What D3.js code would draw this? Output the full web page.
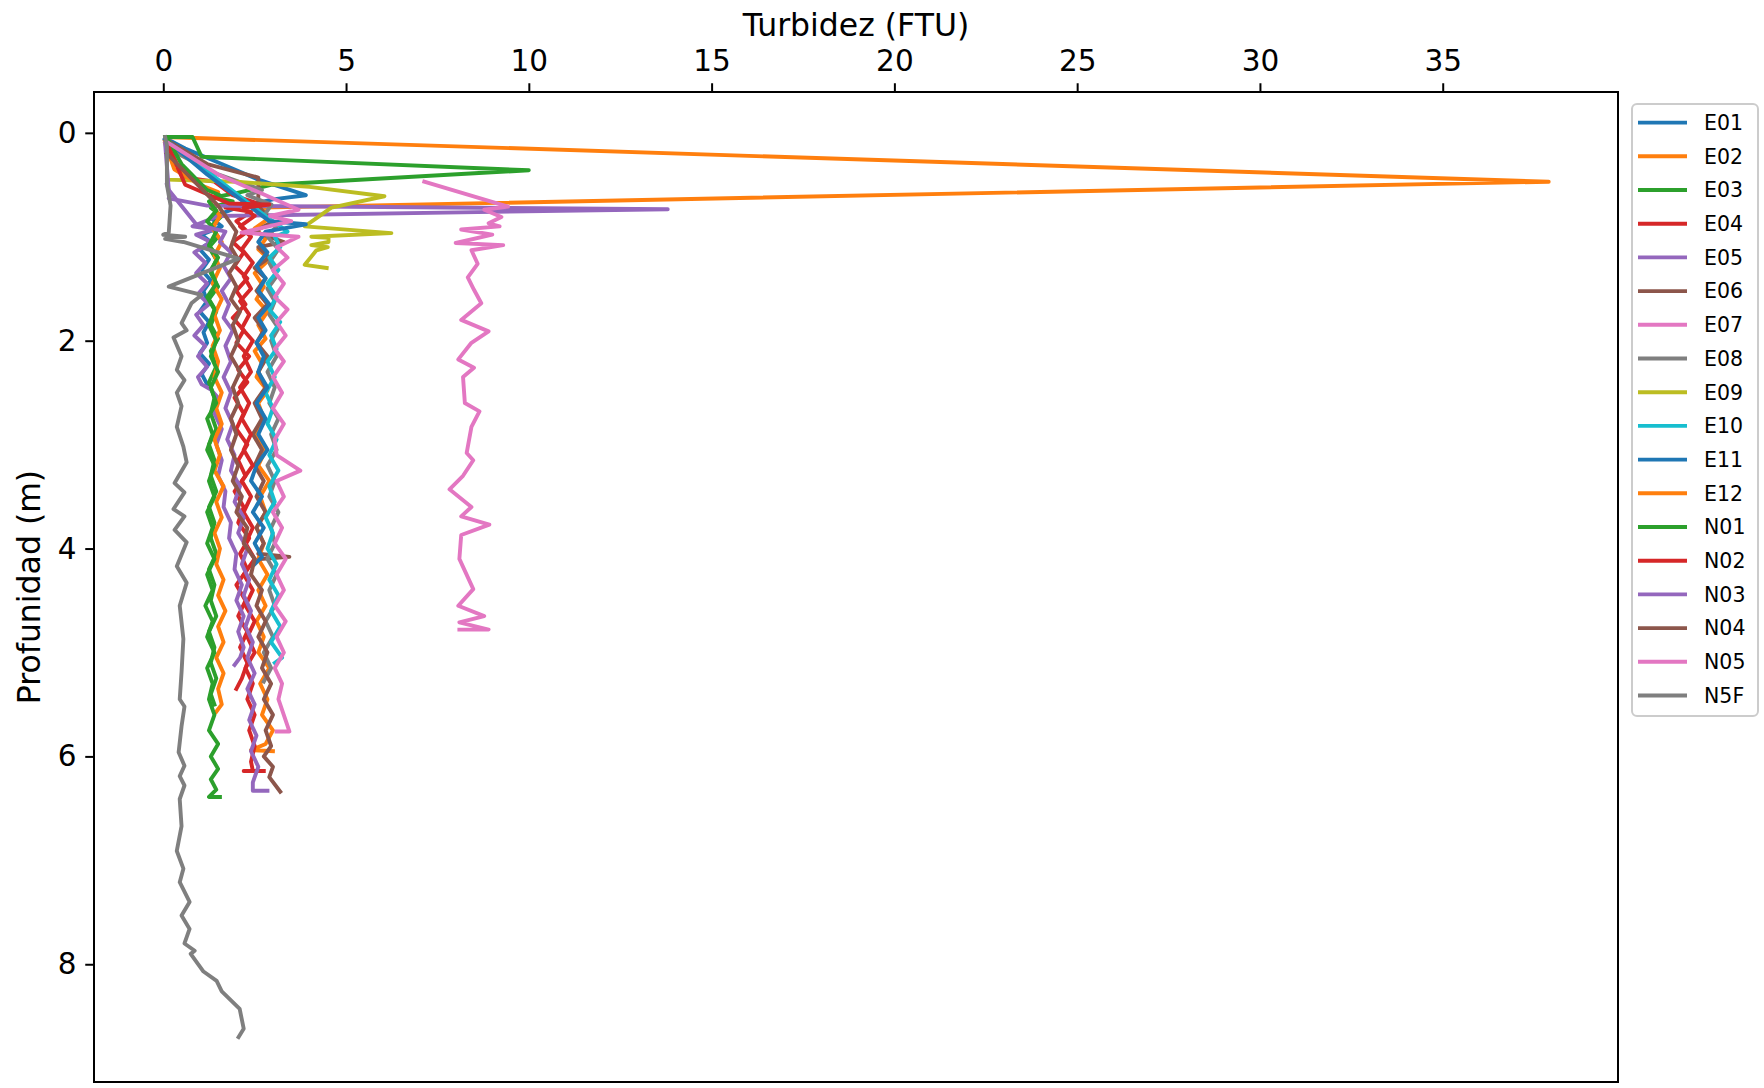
<!DOCTYPE html>
<html>
<head>
<meta charset="utf-8">
<script src="https://cdn.jsdelivr.net/npm/d3@7"></script>
<style>
  body { margin: 0; background: #fff; }
  text { font-family: "DejaVu Sans", sans-serif; fill: #000; }
</style>
</head>
<body>
<svg id="chart"></svg>
<script>
// station names, in plotting order
const stations = ["E01","E02","E03","E04","E05","E06","E07","E08","E09","E10","E11","E12","N01","N02","N03","N04","N05","N5F"];
const colors = ["#1f77b4","#ff7f0e","#2ca02c","#d62728","#9467bd","#8c564b","#e377c2","#7f7f7f","#bcbd22","#17becf"];
const xTicks = [0, 5, 10, 15, 20, 25, 30, 35];
const yTicks = [0, 2, 4, 6, 8];

// profiles: [turbidez (FTU), profundidad (m)]
const E01 = [[0.05,0.05],[0.6,0.15],[1.6,0.3],[2.6,0.45],[3.9,0.6],[3.0,0.64],[2.0,0.72],[1.3,0.82],[1.6,0.9],[1.05,0.98],[1.3,1.05],[1.0,1.12],[1.25,1.22],[1.05,1.32],[1.3,1.42],[1.1,1.52],[1.2,1.62],[1.0,1.72],[1.25,1.82],[1.1,1.92],[1.2,2.02],[1.0,2.12],[1.25,2.22],[1.05,2.32],[1.2,2.42]];
const E02 = [[0.05,0.04],[37.9,0.47],[2.7,0.72],[2.9,0.82],[2.5,0.92],[2.8,1.02],[2.6,1.12],[2.9,1.22],[2.5,1.35],[2.75,1.48],[2.55,1.6],[2.85,1.72],[2.6,1.85],[2.8,1.98],[2.5,2.1],[2.7,2.22],[2.55,2.35],[2.85,2.48],[2.6,2.6],[2.75,2.75],[2.5,2.9],[2.8,3.05],[2.6,3.2],[2.9,3.35],[2.65,3.5],[2.8,3.65],[2.55,3.8],[2.75,3.95],[2.6,4.1],[2.85,4.25],[2.6,4.4],[2.8,4.55],[2.55,4.7],[2.75,4.85],[2.6,5.0],[2.9,5.15],[2.65,5.3],[2.85,5.45],[2.7,5.6],[3.0,5.75],[2.8,5.88],[2.4,5.94],[3.0,5.95]];
const E03 = [[0.05,0.04],[0.8,0.04],[1.05,0.23],[10.0,0.36],[2.95,0.5],[2.0,0.58],[1.4,0.62],[1.9,0.66],[1.3,0.72],[1.6,0.8],[1.3,0.9],[1.5,1.0],[1.25,1.1],[1.45,1.22],[1.3,1.35],[1.5,1.48],[1.25,1.6],[1.45,1.72],[1.3,1.85],[1.5,1.98],[1.3,2.1],[1.45,2.25],[1.25,2.4],[1.4,2.55],[1.3,2.7],[1.45,2.85],[1.25,3.0],[1.4,3.15],[1.3,3.3],[1.45,3.45],[1.25,3.6],[1.4,3.75],[1.3,3.9],[1.45,4.05],[1.25,4.2],[1.4,4.35],[1.3,4.5],[1.45,4.65],[1.25,4.8],[1.4,4.95],[1.3,5.1],[1.45,5.25],[1.3,5.4],[1.4,5.5]];
const E04 = [[0.05,0.08],[0.35,0.28],[0.6,0.43],[1.4,0.47],[1.9,0.6],[2.6,0.68],[1.7,0.72],[2.4,0.76],[2.0,0.85],[2.3,0.95],[1.9,1.05],[2.2,1.15],[1.95,1.28],[2.3,1.4],[2.0,1.52],[2.25,1.65],[1.9,1.78],[2.2,1.9],[2.0,2.02],[2.35,2.15],[2.05,2.28],[2.3,2.4],[1.95,2.55],[2.2,2.7],[2.0,2.85],[2.3,3.0],[2.05,3.15],[2.25,3.3],[1.95,3.45],[2.2,3.6],[2.05,3.75],[2.35,3.9],[2.1,4.05],[2.3,4.2],[2.0,4.35],[2.25,4.5],[2.05,4.65],[2.3,4.8],[2.1,4.95],[2.3,5.1],[2.15,5.25],[2.0,5.35]];
const E05 = [[0.1,0.5],[0.2,0.6],[0.15,0.63],[1.2,0.7],[13.8,0.735],[1.5,0.8],[0.8,0.9],[1.4,0.93],[0.9,0.98],[1.3,1.05],[0.85,1.15],[1.15,1.25],[0.9,1.35],[1.2,1.45],[0.95,1.55],[1.25,1.65],[0.9,1.75],[1.1,1.85],[0.85,1.95],[1.15,2.05],[0.95,2.15],[1.2,2.25],[0.95,2.35],[1.05,2.42],[1.3,2.47],[1.5,2.55],[1.4,2.7],[1.6,2.85],[1.45,3.0],[1.6,3.15],[1.5,3.3],[1.7,3.45],[1.65,3.6],[1.85,3.75],[1.8,3.9],[2.0,4.05],[1.95,4.2],[2.15,4.35],[2.0,4.5],[2.2,4.65],[2.05,4.8],[2.2,4.95],[2.1,5.05],[1.95,5.12]];
const E06 = [[0.05,0.06],[1.2,0.3],[2.6,0.43],[2.6,0.7],[2.96,0.86],[2.5,0.95],[3.3,1.05],[2.6,1.1],[2.9,1.2],[2.5,1.3],[2.8,1.4],[2.55,1.52],[2.85,1.65],[2.5,1.78],[2.75,1.9],[2.55,2.02],[2.85,2.15],[2.6,2.3],[2.8,2.45],[2.5,2.6],[2.7,2.75],[2.45,2.9],[2.7,3.05],[2.5,3.2],[2.75,3.35],[2.55,3.5],[2.8,3.65],[2.55,3.8],[2.75,3.95],[2.6,4.05],[3.45,4.08],[2.7,4.1]];
const E07 = [[7.14,0.47],[9.43,0.71],[8.78,0.74],[9.25,0.81],[8.9,0.87],[9.2,0.9],[8.15,0.93],[9.0,0.98],[8.0,1.06],[9.3,1.08],[8.43,1.13],[8.6,1.26],[8.33,1.39],[8.5,1.51],[8.7,1.64],[8.15,1.8],[8.9,1.91],[8.43,2.02],[8.07,2.18],[8.5,2.26],[8.2,2.35],[8.25,2.6],[8.65,2.68],[8.43,2.83],[8.3,3.08],[8.48,3.15],[8.2,3.3],[7.83,3.43],[8.43,3.6],[8.15,3.69],[8.92,3.77],[8.15,3.87],[8.1,4.1],[8.48,4.39],[8.07,4.55],[8.78,4.65],[8.1,4.71],[8.9,4.78],[8.1,4.78]];
const E08 = [[0.1,0.1],[0.23,0.17],[1.5,0.4],[2.7,0.55],[2.3,0.6],[2.96,0.69],[2.75,0.8],[3.1,0.9],[2.85,1.0],[3.15,1.12],[2.9,1.25],[3.1,1.38],[2.85,1.5],[3.05,1.62],[2.9,1.75],[3.15,1.88],[2.95,2.0],[3.1,2.15],[2.85,2.3],[3.05,2.45],[2.9,2.6],[3.15,2.75],[2.95,2.9],[3.1,3.05],[2.85,3.2],[3.05,3.35],[2.9,3.5],[3.15,3.65],[2.95,3.8],[3.05,3.95],[2.85,4.1],[3.1,4.25],[2.9,4.4],[3.05,4.55],[2.8,4.7],[3.0,4.85],[2.75,5.0],[2.95,5.15],[2.75,5.28]];
const E09 = [[0.05,0.05],[0.1,0.25],[0.1,0.45],[2.0,0.47],[4.0,0.52],[6.05,0.61],[4.6,0.72],[3.87,0.9],[6.24,0.965],[4.05,1.0],[4.52,1.01],[4.52,1.05],[4.05,1.08],[4.5,1.1],[4.19,1.13],[3.87,1.27],[4.47,1.3]];
const E10 = [[0.1,0.08],[1.5,0.45],[2.8,0.8],[3.4,0.95],[3.05,1.0],[3.2,1.1],[2.9,1.2],[3.15,1.32],[2.85,1.45],[3.1,1.58],[2.9,1.7],[3.2,1.82],[2.95,1.95],[3.1,2.08],[2.85,2.2],[3.05,2.35],[2.8,2.5],[3.0,2.65],[2.85,2.8],[3.1,2.95],[2.9,3.1],[3.15,3.25],[2.9,3.4],[3.05,3.55],[2.8,3.7],[3.0,3.85],[2.85,4.0],[3.1,4.15],[2.9,4.3],[3.15,4.45],[2.95,4.6],[3.2,4.75],[2.95,4.9],[3.25,5.05],[3.05,5.1]];
const E11 = [[0.05,0.06],[1.2,0.4],[2.9,0.85],[3.9,0.88],[2.8,0.95],[2.6,1.05],[2.85,1.15],[2.55,1.28],[2.8,1.4],[2.6,1.52],[2.9,1.65],[2.6,1.78],[2.8,1.9],[2.55,2.02],[2.75,2.15],[2.6,2.3],[2.85,2.45],[2.55,2.6],[2.8,2.75],[2.6,2.9],[2.85,3.05],[2.55,3.2],[2.4,3.35],[2.7,3.5],[2.45,3.65],[2.75,3.8],[2.5,3.95],[2.7,4.08],[2.5,4.15]];
const E12 = [[0.05,0.1],[0.3,0.35],[1.0,0.5],[1.5,0.57],[1.3,0.68],[1.55,0.8],[1.35,0.92],[1.6,1.05],[1.4,1.18],[1.55,1.3],[1.35,1.45],[1.6,1.6],[1.4,1.75],[1.55,1.9],[1.35,2.05],[1.5,2.2],[1.4,2.35],[1.6,2.5],[1.45,2.65],[1.6,2.8],[1.4,2.95],[1.55,3.1],[1.4,3.25],[1.65,3.4],[1.45,3.55],[1.6,3.7],[1.4,3.85],[1.55,4.0],[1.45,4.15],[1.65,4.3],[1.5,4.45],[1.7,4.6],[1.5,4.75],[1.65,4.9],[1.45,5.05],[1.65,5.2],[1.5,5.35],[1.6,5.5],[1.45,5.57]];
const N01 = [[0.1,0.05],[0.5,0.3],[1.2,0.55],[1.55,0.6],[1.25,0.66],[1.45,0.75],[1.2,0.85],[1.45,0.95],[1.25,1.08],[1.5,1.2],[1.3,1.32],[1.45,1.45],[1.2,1.58],[1.4,1.7],[1.25,1.85],[1.45,2.0],[1.3,2.15],[1.5,2.3],[1.3,2.45],[1.45,2.6],[1.2,2.75],[1.35,2.9],[1.2,3.05],[1.4,3.2],[1.25,3.35],[1.4,3.5],[1.2,3.65],[1.35,3.8],[1.2,3.95],[1.4,4.1],[1.2,4.25],[1.35,4.4],[1.15,4.55],[1.35,4.7],[1.2,4.85],[1.4,5.0],[1.2,5.15],[1.35,5.3],[1.25,5.45],[1.4,5.6],[1.25,5.75],[1.5,5.88],[1.3,6.0],[1.5,6.12],[1.3,6.22],[1.45,6.32],[1.25,6.39],[1.55,6.39]];
const N02 = [[0.1,0.1],[0.6,0.5],[1.8,0.68],[2.9,0.69],[2.2,0.72],[2.5,0.8],[2.1,0.9],[2.4,1.0],[2.15,1.12],[2.45,1.25],[2.2,1.38],[2.4,1.5],[2.1,1.62],[2.35,1.75],[2.15,1.88],[2.45,2.0],[2.2,2.15],[2.4,2.3],[2.1,2.45],[2.35,2.6],[2.15,2.75],[2.4,2.9],[2.2,3.05],[2.45,3.2],[2.15,3.35],[2.4,3.5],[2.2,3.65],[2.45,3.8],[2.25,3.95],[2.5,4.1],[2.2,4.25],[2.45,4.4],[2.25,4.55],[2.5,4.7],[2.3,4.85],[2.5,5.0],[2.25,5.15],[2.45,5.3],[2.3,5.45],[2.5,5.6],[2.35,5.75],[2.5,5.9],[2.4,6.05],[2.45,6.14],[2.2,6.14],[2.75,6.14]];
const N03 = [[0.05,0.1],[0.15,0.55],[0.9,0.88],[1.7,0.95],[1.55,1.05],[1.85,1.15],[1.65,1.28],[1.85,1.4],[1.6,1.52],[1.8,1.65],[1.65,1.78],[1.9,1.9],[1.7,2.05],[1.85,2.2],[1.65,2.35],[1.85,2.5],[1.7,2.65],[1.9,2.8],[1.75,2.95],[1.95,3.1],[1.85,3.25],[2.1,3.4],[1.95,3.55],[2.2,3.7],[2.05,3.85],[2.3,4.0],[2.15,4.15],[2.35,4.3],[2.2,4.45],[2.4,4.6],[2.25,4.75],[2.45,4.9],[2.3,5.05],[2.5,5.2],[2.3,5.35],[2.5,5.5],[2.35,5.65],[2.55,5.8],[2.4,5.95],[2.6,6.1],[2.45,6.25],[2.45,6.33],[2.85,6.33]];
const N04 = [[0.1,0.2],[1.5,0.7],[2.0,0.95],[1.85,1.1],[2.05,1.22],[1.8,1.35],[2.0,1.48],[1.85,1.6],[2.1,1.72],[1.9,1.85],[2.05,2.0],[1.85,2.15],[2.1,2.3],[1.9,2.45],[2.05,2.6],[1.85,2.75],[2.0,2.9],[1.85,3.05],[2.05,3.2],[1.9,3.35],[2.15,3.5],[2.0,3.65],[2.3,3.8],[2.2,3.95],[2.5,4.1],[2.4,4.25],[2.7,4.4],[2.55,4.55],[2.8,4.7],[2.6,4.85],[2.85,5.0],[2.7,5.15],[2.95,5.3],[2.75,5.45],[3.0,5.6],[2.8,5.75],[2.95,5.9],[2.75,6.0],[3.0,6.1],[2.9,6.2],[3.2,6.34]];
const N05 = [[0.15,0.1],[1.5,0.4],[3.7,0.74],[2.92,0.8],[3.5,0.85],[2.14,0.96],[3.7,1.0],[3.1,1.1],[3.4,1.2],[3.0,1.32],[3.3,1.45],[3.05,1.58],[3.4,1.7],[3.1,1.82],[3.35,1.95],[3.05,2.08],[3.3,2.2],[3.0,2.35],[3.25,2.5],[3.0,2.65],[3.3,2.8],[3.05,2.95],[3.1,3.1],[3.75,3.25],[3.1,3.35],[3.3,3.5],[3.0,3.65],[3.25,3.8],[3.05,3.95],[3.35,4.1],[3.1,4.25],[3.3,4.4],[3.05,4.55],[3.35,4.7],[3.1,4.85],[3.3,5.0],[3.05,5.15],[3.25,5.3],[3.15,5.45],[3.45,5.76],[3.1,5.76]];
const N5F = [[0.05,0.04],[0.1,0.12],[0.1,0.5],[0.2,0.7],[0.15,0.96],[0.0,0.98],[0.6,1.0],[0.05,1.02],[0.55,1.05],[2.06,1.21],[0.15,1.48],[1.05,1.56],[0.77,1.64],[0.5,1.83],[0.64,1.9],[0.28,1.97],[0.5,2.15],[0.37,2.28],[0.58,2.38],[0.37,2.5],[0.5,2.63],[0.37,2.83],[0.55,3.02],[0.64,3.17],[0.31,3.37],[0.58,3.46],[0.28,3.62],[0.58,3.69],[0.31,3.82],[0.64,3.94],[0.37,4.17],[0.64,4.33],[0.45,4.55],[0.55,4.87],[0.5,5.19],[0.45,5.45],[0.58,5.52],[0.5,5.71],[0.42,5.96],[0.58,6.09],[0.45,6.19],[0.58,6.28],[0.45,6.41],[0.5,6.67],[0.37,6.91],[0.55,7.08],[0.45,7.21],[0.72,7.4],[0.5,7.53],[0.72,7.66],[0.58,7.8],[0.86,7.87],[0.75,7.9],[1.1,8.07],[1.46,8.16],[1.6,8.26],[2.09,8.43],[2.2,8.62],[2.06,8.7]];

const profiles = [E01,E02,E03,E04,E05,E06,E07,E08,E09,E10,E11,E12,N01,N02,N03,N04,N05,N5F];

const width = 1764, height = 1088;
const plot = { left: 94, right: 1618, top: 92, bottom: 1082 };

const svg = d3.select("#chart").attr("width", width).attr("height", height);

// matplotlib-like 5% margins around the data
const allPts = profiles.flat();
const xExt = d3.extent(allPts, d => d[0]);
const yExt = d3.extent(allPts, d => d[1]);
const xPad = (xExt[1] - xExt[0]) * 0.05;
const yPad = (yExt[1] - yExt[0]) * 0.05;

let xScale = d3.scaleLinear()
  .domain([xExt[0] - xPad, xExt[1] + xPad])
  .range([plot.left, plot.right]);

let yScale = d3.scaleLinear()
  .domain([yExt[0] - yPad, yExt[1] + yPad])
  .range([plot.top, plot.bottom]);

// lines
const line = d3.line().x(d => xScale(d[0])).y(d => yScale(d[1]));

svg.append("g")
  .selectAll("path")
  .data(profiles)
  .enter()
  .append("path")
  .attr("d", d => line(d))
  .attr("fill", "none")
  .attr("stroke", (d, i) => colors[i % 10])
  .attr("stroke-width", 3.9)
  .attr("stroke-linejoin", "round")
  .attr("stroke-linecap", "square");

// frame
svg.append("rect")
  .attr("x", plot.left).attr("y", plot.top)
  .attr("width", plot.right - plot.left).attr("height", plot.bottom - plot.top)
  .attr("fill", "none").attr("stroke", "#000").attr("stroke-width", 2);

// axes
let x_axis = d3.axisTop(xScale).tickValues(xTicks).tickSize(8.75).tickPadding(12).tickFormat(d3.format("d"));
let y_axis = d3.axisLeft(yScale).tickValues(yTicks).tickSize(8.75).tickPadding(8.75).tickFormat(d3.format("d"));

const gx = svg.append("g").attr("transform", `translate(0,${plot.top})`).call(x_axis);
const gy = svg.append("g").attr("transform", `translate(${plot.left},0)`).call(y_axis);

[gx, gy].forEach(g => {
  g.select(".domain").remove();
  g.selectAll(".tick line").attr("stroke", "#000").attr("stroke-width", 2);
  g.selectAll(".tick text")
    .attr("fill", "#000")
    .style("font-family", "'DejaVu Sans', sans-serif")
    .style("font-size", "29.5px");
});

// axis titles
svg.append("text")
  .attr("x", (plot.left + plot.right) / 2)
  .attr("y", 36)
  .attr("text-anchor", "middle")
  .style("font-size", "31.5px")
  .text("Turbidez (FTU)");

svg.append("text")
  .attr("transform", `translate(40,${(plot.top + plot.bottom) / 2}) rotate(-90)`)
  .attr("text-anchor", "middle")
  .style("font-size", "31.5px")
  .text("Profunidad (m)");

// legend
const legend = svg.append("g");
legend.append("rect")
  .attr("x", 1632).attr("y", 104)
  .attr("width", 126).attr("height", 612)
  .attr("rx", 5)
  .attr("fill", "#fff").attr("fill-opacity", 0.8)
  .attr("stroke", "#cccccc").attr("stroke-width", 2);

const items = legend.selectAll("g.item")
  .data(stations)
  .enter()
  .append("g")
  .attr("transform", (d, i) => `translate(0,${122.6 + i * 33.7})`);

items.append("line")
  .attr("x1", 1638).attr("x2", 1687)
  .attr("stroke", (d, i) => colors[i % 10])
  .attr("stroke-width", 3.9);

items.append("text")
  .attr("x", 1704)
  .attr("dy", "0.36em")
  .style("font-size", "20.5px")
  .text(d => d);
</script>
</body>
</html>
